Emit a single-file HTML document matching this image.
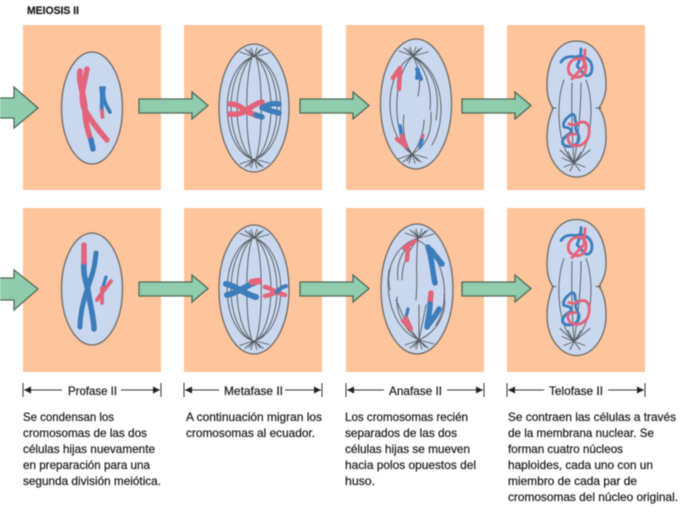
<!DOCTYPE html>
<html><head><meta charset="utf-8"><style>
html,body{margin:0;padding:0;background:#fff}
svg{display:block;filter:blur(.55px)}
text{font-family:"Liberation Sans",sans-serif;font-size:12px;fill:#222;stroke:#222;stroke-width:.25}
.k{fill:none;stroke:#55585c;stroke-width:.9;stroke-linecap:round}
.c{fill:#c9d8ee;stroke:#6f6a64;stroke-width:1.3}
.a{fill:#8fcdae;stroke:#4f6a55;stroke-width:1.3}
.r{fill:none;stroke:#e2637a;stroke-linecap:round;stroke-linejoin:round}
.b{fill:none;stroke:#3c7dbc;stroke-linecap:round;stroke-linejoin:round}
</style></head><body>
<svg width="688" height="515" viewBox="0 0 688 515" xmlns="http://www.w3.org/2000/svg">
<defs>
<g id="pole" class="k">
<path d="M0,0 L-14,-5 M0,0 L-9,-8 M0,0 L-3,-9 M0,0 L3,-9 M0,0 L9,-8 M0,0 L15,-4 M0,0 L-5,-7 M0,0 L6,-7"/>
</g>
<g id="pole2" class="k">
<path d="M0,0 L-14,5 M0,0 L-9,8 M0,0 L-3,9 M0,0 L3,9 M0,0 L9,8 M0,0 L15,4 M0,0 L-5,7 M0,0 L6,7"/>
</g>
<g id="sp" class="k">
<path d="M-2,-51 C-9,-28 -9,28 -2,51 M2,-51 C9,-28 9,28 2,51 M-2,-51 C-22,-32 -22,32 -2,51 M2,-51 C22,-32 22,32 2,51 M-2,-51 C-30,-36 -30,36 -2,51 M2,-51 C30,-36 30,36 2,51 M-2,-51 C-35,-38 -35,38 -2,51 M2,-51 C35,-38 35,38 2,51"/>
<use href="#pole" y="-51"/><use href="#pole2" y="51"/>
</g>
<g id="tel">
<path class="c" d="M576.500,41 C598,41 606,65 606,85 C606,98 601,104 599,108 C604,115 606,125 606,137 C606,160 592,177 576.500,177 C561,177 547,160 547,137 C547,125 550,115 553,108 C550,104 547,98 547,85 C547,65 555,41 576.500,41Z"/>
<path class="k" d="M552,108 H556 M596,108 H601 M574,163 C556,145 556,100 564,80 M574,163 Q571,120 572,83 M574,163 Q581,120 581,83 M574,163 C594,145 594,100 586,80 M574,163 L562,158 M574,163 L564,167 M574,163 L570,171 M574,163 L580,171 M574,163 L585,167 M574,163 L590,150 M574,163 L560,150 M574,163 L568,152 M574,163 L581,152"/>
<path class="b" stroke-width="2.800" d="M561,62 C564,57 570,56 576,57 C584,54 592,60 592,68 C592,76 586,78 583,73 L577,66 C580,60 581,54 581,49"/>
<path class="r" stroke-width="2.800" d="M576,59 C568,60 566,72 571,75 C578,80 586,76 586,67 C586,61 581,57 576,59 M585,50 L584,66 L572,79"/>
<path class="b" stroke-width="2.800" d="M572,114 C566,118 562,123 564,127 C570,128 574,130 569,134 C562,138 560,144 566,146 C574,148 582,142 578,134 C576,130 574,126 578,124 C572,120 578,116 572,114Z"/>
<path class="r" stroke-width="2.800" d="M569,124 C576,127 578,121 584,122 C591,124 590,134 587,140 C582,147 572,148 569,142 C566,136 568,134 576,134"/>
</g>
<path id="ag" class="a" d="M139,99 H192 V92 L208,105.500 L192,119 V113 H139Z"/>
</defs>

<g fill="#fec49c">
<rect x="23" y="25" width="138" height="165"/><rect x="184" y="25" width="138" height="165"/><rect x="346" y="25" width="138" height="165"/><rect x="507" y="25" width="138" height="165"/>
<rect x="23" y="208" width="138" height="164"/><rect x="184" y="208" width="138" height="164"/><rect x="346" y="208" width="138" height="164"/><rect x="507" y="208" width="138" height="164"/>
</g>

<text x="27" y="14" style="font-size:11px;font-weight:bold" textLength="52" lengthAdjust="spacingAndGlyphs">MEIOSIS II</text>

<!-- Row 1 -->
<ellipse class="c" cx="92" cy="108" rx="30.500" ry="56"/>
<path class="r" stroke-width="5.500" d="M80,71 C78,85 85,95 85,110 C85,122 88,132 91,140"/>
<path class="b" stroke-width="5.500" d="M91,140 L93,149"/>
<path class="r" stroke-width="5.500" d="M87,69 C84,85 80,95 84,108 C90,120 100,132 107,140"/>
<path class="b" stroke-width="3.800" d="M101,88 C103,97 101,105 102,111 M104,88 C102,97 105,104 110,112"/>
<path class="r" stroke-width="3.800" d="M102,111 L102.500,117"/>

<ellipse class="c" cx="254" cy="108" rx="35" ry="64"/>
<use href="#sp" x="254" y="108"/>
<path class="r" stroke-width="5.500" d="M230,104 C238,104 242,108 246,111 C252,106 258,103 262,102 M230,114 C238,115 242,113 246,111 C250,113 255,115 258,116"/>
<path class="b" stroke-width="5.500" d="M256,115 L262,117 M262,108 C268,104 274,103 279,104 M263,108 C268,110 274,112 279,113"/>
<use href="#ag"/>

<ellipse class="c" cx="416" cy="104" rx="35.500" ry="65"/>
<g class="k">
<path d="M413,56 C392,75 391,135 412,154 M413,56 C382,72 383,135 412,154"/>
<path d="M413,56 C436,72 440,95 436,120 M413,56 C427,70 432,90 430,110 M413,56 C420,70 421,80 418,96 M413,56 C445,72 447,120 432,145 M412,154 C428,145 432,130 431,112 M412,154 C420,145 424,130 424,120 M412,154 C405,145 402,130 404,115"/>
</g>
<use href="#pole" x="413" y="56"/><use href="#pole2" x="412" y="154"/>
<path class="r" stroke-width="4.500" d="M400,68 L393,78 M400,68 L399,89"/>
<path class="b" stroke-width="3.800" d="M417,69 L421,79 M418,70 L417,78"/>
<path class="b" stroke-width="3.800" d="M400,126 L402,138"/>
<path class="r" stroke-width="4.500" d="M397,139 L406,146 M402,136 L406,146"/>
<path class="r" stroke-width="3" d="M423,135 L422,140"/>
<path class="b" stroke-width="3.500" d="M422,140 L420,147"/>
<use href="#ag" x="161"/>

<use href="#tel"/>
<use href="#ag" x="323"/>

<path class="a" d="M-2,98 H14 V87 L38,108 L14,128 V118 H-2Z"/>

<!-- Row 2 -->
<ellipse class="c" cx="92" cy="289" rx="30.500" ry="56"/>
<path class="b" stroke-width="5.500" d="M84,262 C83,275 86,282 88,290 C90,305 94,318 94,329"/>
<path class="r" stroke-width="5.500" d="M84,245 L84,262"/>
<path class="b" stroke-width="5" d="M96,253 C95,270 90,280 87,290 C83,302 80,315 80,327"/>
<path class="b" stroke-width="3.200" d="M106,277 L102,290"/>
<path class="r" stroke-width="3.800" d="M111,281 C106,288 100,295 97,300 M102,288 L102,303"/>

<ellipse class="c" cx="254" cy="289.500" rx="35" ry="64.500"/>
<use href="#sp" x="254" y="289.500"/>
<path class="b" stroke-width="6" d="M226,284 C232,285 236,288 240,290 C246,287 250,284 254,283 M227,295 C232,294 236,292 240,290 C246,293 251,296 256,297"/>
<path class="r" stroke-width="6.500" d="M252,282 L259,281"/>
<path class="r" stroke-width="4.500" d="M265,287 C270,288 274,291 277,292 C272,294 268,296 265,296 M285,295 C281,294 279,293 277,292"/>
<path class="b" stroke-width="4" d="M277,292 C279,289 282,287 286,286"/>
<use href="#ag" y="183"/>

<ellipse class="c" cx="417" cy="289" rx="36" ry="65"/>
<g class="k">
<path d="M418,238 C395,245 385,270 390,290 M418,238 C400,250 396,265 398,280 M418,238 C406,255 402,265 402,280"/>
<path d="M418,238 C415,265 418,275 416,300 M418,240 C445,255 452,300 436,325"/>
<path d="M419,340 C395,330 385,300 389,270 M419,340 C400,325 396,310 397,297 M419,340 C405,325 401,310 396,300 M419,340 L419,305 M419,340 L426,305"/>
<path d="M419,340 C440,330 447,310 444,295"/>
</g>
<use href="#pole" x="419" y="238"/><use href="#pole2" x="419" y="340"/>
<path class="r" stroke-width="4.500" d="M415,241 L404,248 M408,247 L407,260"/>
<path class="b" stroke-width="5.500" d="M428,247 C432,258 433,275 435,283"/>
<path class="b" stroke-width="5.500" d="M431,250 L442,264"/>
<path class="r" stroke-width="5.500" d="M431,293 L430,304"/>
<path class="b" stroke-width="5.500" d="M430,304 C430,312 428,318 427,327 M439,309 C436,316 430,322 427,327"/>
<path class="b" stroke-width="3.200" d="M408,309 L405,321"/>
<path class="r" stroke-width="4.200" d="M403,321 L411,329 M406,318 L411,329"/>
<use href="#ag" x="161" y="183"/>

<use href="#tel" y="178.500"/>
<use href="#ag" x="323" y="183"/>

<path class="a" d="M-2,278 H14 V270 L38,289 L14,310 V300 H-2Z"/>

<!-- Brackets -->
<g fill="#222" stroke="#333" stroke-width="1">
<path d="M23,383 V397 M161,383 V397 M24,390 H62 M121,390 H160 M184,383 V397 M322,383 V397 M185,390 H219 M285,390 H321 M346,383 V397 M484,383 V397 M347,390 H384 M447,390 H483 M507,383 V397 M645,383 V397 M508,390 H544 M608,390 H644" fill="none"/>
<path d="M24,390 L31,386.500 V393.500Z M160,390 L153,386.500 V393.500Z M185,390 L192,386.500 V393.500Z M321,390 L314,386.500 V393.500Z M347,390 L354,386.500 V393.500Z M483,390 L476,386.500 V393.500Z M508,390 L515,386.500 V393.500Z M644,390 L637,386.500 V393.500Z" stroke="none"/>
</g>
<text x="68" y="395" textLength="49" lengthAdjust="spacingAndGlyphs">Profase II</text>
<text x="224" y="395" textLength="59" lengthAdjust="spacingAndGlyphs">Metafase II</text>
<text x="389" y="395" textLength="53" lengthAdjust="spacingAndGlyphs">Anafase II</text>
<text x="549" y="395" textLength="54" lengthAdjust="spacingAndGlyphs">Telofase II</text>

<text x="23" y="421" textLength="91" lengthAdjust="spacingAndGlyphs">Se condensan los</text>
<text x="23" y="437" textLength="124" lengthAdjust="spacingAndGlyphs">cromosomas de las dos</text>
<text x="23" y="453" textLength="132" lengthAdjust="spacingAndGlyphs">células hijas nuevamente</text>
<text x="23" y="469" textLength="127" lengthAdjust="spacingAndGlyphs">en preparación para una</text>
<text x="23" y="485" textLength="138" lengthAdjust="spacingAndGlyphs">segunda división meiótica.</text>

<text x="186" y="421" textLength="136" lengthAdjust="spacingAndGlyphs">A continuación migran los</text>
<text x="186" y="437" textLength="129" lengthAdjust="spacingAndGlyphs">cromosomas al ecuador.</text>

<text x="345" y="421" textLength="123" lengthAdjust="spacingAndGlyphs">Los cromosomas recién</text>
<text x="345" y="437" textLength="112" lengthAdjust="spacingAndGlyphs">separados de las dos</text>
<text x="345" y="453" textLength="125" lengthAdjust="spacingAndGlyphs">células hijas se mueven</text>
<text x="345" y="469" textLength="131" lengthAdjust="spacingAndGlyphs">hacia polos opuestos del</text>
<text x="345" y="485" textLength="30" lengthAdjust="spacingAndGlyphs">huso.</text>

<text x="508" y="421" textLength="168" lengthAdjust="spacingAndGlyphs">Se contraen las células a través</text>
<text x="508" y="437" textLength="146" lengthAdjust="spacingAndGlyphs">de la membrana nuclear. Se</text>
<text x="508" y="453" textLength="115" lengthAdjust="spacingAndGlyphs">forman cuatro núcleos</text>
<text x="508" y="469" textLength="145" lengthAdjust="spacingAndGlyphs">haploides, cada uno con un</text>
<text x="508" y="485" textLength="129" lengthAdjust="spacingAndGlyphs">miembro de cada par de</text>
<text x="508" y="501" textLength="170" lengthAdjust="spacingAndGlyphs">cromosomas del núcleo original.</text>
</svg>
</body></html>
